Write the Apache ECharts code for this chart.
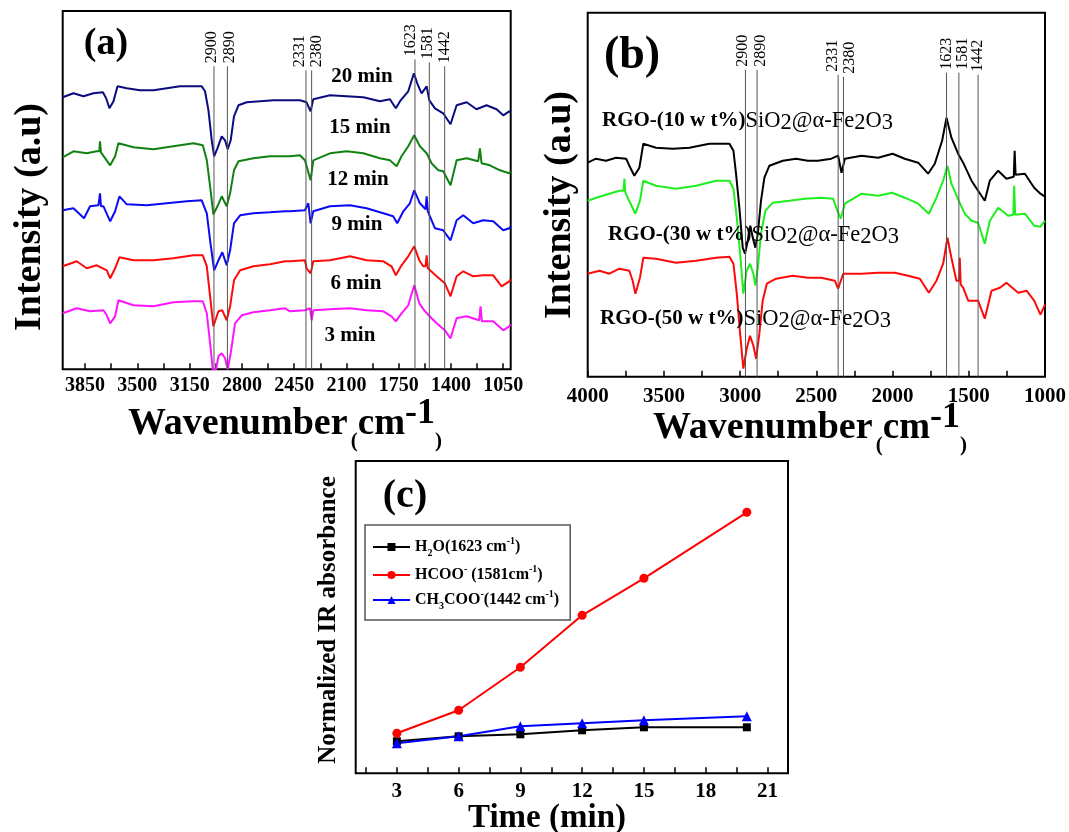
<!DOCTYPE html>
<html><head><meta charset="utf-8">
<script src="https://cdn.jsdelivr.net/npm/echarts@6/dist/echarts.min.js"></script>
<style>html,body{margin:0;padding:0;background:#fff}#c{width:1069px;height:832px}</style>
</head><body><div id="c"></div><script>
// ---------- Panel (a): in-situ spectra vs time (wavenumber, intensity a.u.) ----------
const specA20 = [[4000,272],[3995,273],[3928,276],[3861,273],[3794,276],[3731,277],[3709,271],[3687,261],[3660,268],[3633,283],[3571,281],[3482,279],[3392,279],[3303,281],[3214,283],[3125,283],[3069,283],[3047,278],[3024,259],[3002,229],[2986,213],[2964,221],[2935,233],[2913,229],[2895,220],[2875,229],[2853,253],[2823,264],[2768,267],[2678,268],[2589,269],[2511,269],[2478,269],[2411,269],[2367,267],[2340,258],[2322,270],[2210,274],[2099,273],[1987,272],[1876,268],[1809,270],[1769,261],[1737,269],[1686,278],[1648,296],[1626,286],[1597,276],[1563,283],[1545,269],[1507,261],[1452,256],[1403,245],[1362,264],[1295,267],[1229,260],[1162,264],[1095,260],[1050,254],[1010,258],[1000,257]];
const specA15 = [[4000,212],[3995,213],[3928,218],[3839,216],[3772,218],[3755,218],[3750,228],[3744,217],[3731,218],[3682,204],[3649,213],[3627,226],[3526,222],[3392,220],[3259,223],[3125,226],[3062,224],[3035,209],[3013,183],[2991,155],[2964,163],[2935,173],[2902,163],[2879,176],[2853,199],[2823,208],[2723,211],[2612,213],[2511,213],[2478,213],[2411,214],[2378,209],[2340,189],[2322,209],[2210,216],[2099,218],[1987,216],[1876,211],[1809,209],[1764,203],[1731,213],[1686,223],[1646,234],[1608,223],[1563,216],[1530,206],[1485,199],[1452,198],[1403,184],[1362,209],[1295,211],[1218,208],[1206,221],[1195,206],[1139,204],[1072,199],[1010,196],[1000,198]];
const specA12 = [[4000,159],[3995,159],[3928,161],[3857,151],[3817,163],[3761,164],[3755,165],[3750,176],[3744,163],[3727,163],[3682,148],[3649,158],[3620,173],[3571,165],[3437,164],[3303,166],[3169,168],[3069,169],[3035,156],[3013,129],[2986,99],[2957,109],[2931,117],[2902,104],[2879,119],[2853,146],[2812,154],[2723,156],[2612,157],[2511,158],[2478,158],[2378,159],[2355,166],[2340,146],[2322,158],[2210,163],[2076,164],[1965,161],[1853,156],[1787,153],[1760,146],[1719,158],[1675,166],[1646,179],[1608,166],[1570,160],[1563,173],[1555,158],[1545,156],[1507,141],[1452,139],[1403,129],[1362,149],[1318,154],[1251,146],[1184,149],[1117,148],[1050,139],[1010,141],[1000,143]];
const specA9 = [[4000,103],[3995,103],[3906,108],[3839,101],[3772,104],[3705,99],[3682,91],[3649,101],[3620,112],[3526,109],[3392,109],[3259,111],[3125,114],[3062,114],[3035,103],[3013,73],[2991,43],[2957,58],[2931,59],[2902,49],[2879,63],[2853,89],[2812,99],[2723,103],[2612,105],[2511,108],[2478,108],[2378,109],[2367,101],[2340,96],[2322,108],[2210,109],[2076,113],[1965,109],[1853,108],[1798,103],[1769,94],[1731,104],[1686,113],[1646,123],[1612,109],[1586,103],[1570,103],[1563,114],[1555,101],[1545,101],[1496,93],[1441,86],[1403,73],[1362,93],[1318,98],[1251,93],[1184,94],[1117,94],[1061,83],[1010,88],[1000,90]];
const specA6 = [[4000,56],[3995,56],[3906,61],[3817,58],[3727,59],[3705,54],[3682,46],[3649,53],[3627,69],[3526,64],[3392,63],[3259,67],[3125,68],[3062,68],[3035,56],[3013,26],[2995,0],[2973,0],[2957,13],[2935,16],[2913,11],[2895,0],[2875,16],[2846,46],[2801,54],[2723,57],[2612,59],[2511,61],[2478,58],[2378,59],[2344,61],[2333,49],[2322,59],[2210,60],[2076,61],[1965,59],[1853,58],[1798,53],[1769,48],[1731,56],[1686,64],[1646,84],[1612,66],[1574,58],[1530,51],[1496,46],[1441,39],[1403,31],[1362,51],[1295,53],[1211,49],[1202,63],[1193,48],[1117,48],[1050,39],[1010,43],[1000,45]];
const timeLabelsA = ['20 min','15 min','12 min','9 min','6 min','3 min'];

// ---------- Panel (b): spectra for different SiO2 loadings ----------
const specB10 = [[4000,214],[3945,218],[3880,216],[3814,219],[3748,218],[3727,211],[3694,201],[3661,209],[3635,233],[3552,229],[3442,228],[3333,229],[3202,233],[3070,233],[3044,226],[3027,203],[3005,169],[2983,129],[2968,123],[2950,136],[2933,151],[2917,139],[2900,129],[2884,143],[2863,176],[2841,199],[2808,211],[2720,216],[2633,218],[2556,216],[2489,216],[2401,218],[2357,221],[2335,204],[2313,218],[2204,221],[2095,219],[2000,223],[1920,218],[1832,214],[1767,203],[1723,213],[1675,236],[1646,259],[1614,239],[1570,223],[1537,214],[1482,196],[1439,186],[1395,176],[1362,196],[1307,206],[1253,198],[1205,200],[1199,226],[1193,202],[1132,203],[1071,189],[1030,183],[1000,180]];
const specB30 = [[4000,176],[3945,179],[3858,183],[3792,186],[3765,186],[3759,198],[3753,184],[3738,179],[3687,163],[3657,176],[3635,196],[3552,191],[3420,188],[3289,191],[3158,196],[3070,196],[3044,188],[3022,159],[3000,123],[2979,83],[2957,106],[2935,113],[2913,103],[2900,91],[2884,109],[2863,143],[2834,166],[2786,174],[2677,176],[2576,178],[2467,179],[2390,178],[2362,166],[2340,158],[2313,173],[2204,183],[2095,181],[2003,184],[1920,179],[1832,173],[1762,163],[1712,179],[1668,196],[1640,211],[1614,193],[1566,176],[1526,163],[1482,156],[1439,154],[1395,133],[1362,156],[1307,169],[1242,161],[1208,162],[1202,191],[1196,162],[1132,163],[1071,151],[1030,150],[1000,156]];
const specB50 = [[4000,103],[3923,106],[3858,103],[3792,108],[3727,106],[3705,96],[3687,83],[3657,99],[3635,119],[3552,118],[3420,114],[3289,116],[3158,119],[3070,120],[3044,113],[3022,83],[3000,43],[2979,8],[2957,28],[2935,41],[2913,31],[2895,18],[2874,43],[2852,76],[2825,93],[2764,98],[2655,101],[2556,99],[2467,99],[2379,96],[2357,88],[2324,103],[2204,103],[2095,104],[1985,104],[1898,101],[1821,98],[1762,84],[1712,96],[1668,113],[1640,139],[1614,119],[1581,96],[1563,96],[1559,119],[1553,92],[1537,89],[1504,76],[1471,76],[1439,76],[1395,58],[1351,86],[1296,89],[1253,94],[1176,84],[1121,86],[1071,76],[1030,62],[1000,72]];

// ---------- Peak annotation lines (drawn position, printed label) ----------
const peakPosA = [2987, 2897, 2371, 2333, 1641, 1545, 1442];
const peakTopA = [303, 303, 299, 299, 310, 307, 303];
const peakPosB = [2965, 2889, 2357, 2322, 1646, 1565, 1439];
const peakTopB = [307, 307, 302, 300, 304, 304, 302];
const peakLabels = ['2900', '2890', '2331', '2380', '1623', '1581', '1442'];
// horizontal offsets (px) of each printed label from its line
const peakLabelShiftA = [-2, 2, -6, 5, -4, -2, 0];
const peakLabelShiftB = [-3, 4, -5, 6, 0, 4, 0];

// ---------- Panel (c): normalized IR absorbance vs time ----------
const timeMin = [3, 6, 9, 12, 15, 20];
const absH2O = [0.32, 0.37, 0.39, 0.43, 0.46, 0.46];
const absHCOO = [0.40, 0.63, 1.06, 1.58, 1.95, 2.61];
const absCH3COO = [0.30, 0.37, 0.47, 0.50, 0.53, 0.57];

// ---------- Axis ticks ----------
const ticksLabelA = [3850, 3500, 3150, 2800, 2450, 2100, 1750, 1400, 1050];
const ticksMinorA = [3675, 3325, 2975, 2625, 2275, 1925, 1575, 1225];
const ticksLabelB = [4000, 3500, 3000, 2500, 2000, 1500, 1000];
const ticksMinorB = [3750, 3250, 2750, 2250, 1750, 1250];
const ticksLabelC = [3, 6, 9, 12, 15, 18, 21];
const ticksMinorC = [1.5, 4.5, 7.5, 10.5, 13.5, 16.5, 19.5];

const F = '"Liberation Serif", "Times New Roman", serif';
const chart = echarts.init(document.getElementById('c'), null, {renderer: 'canvas'});

function lineSeries(name, data, color, gi) {
  return {name, type: 'line', xAxisIndex: gi, yAxisIndex: gi, data, showSymbol: false,
    symbol: 'none', lineStyle: {color, width: 2}, itemStyle: {color}, silent: true, clip: true, z: 2};
}
function annotSeries(pos, tops, shifts, gi) {
  return {type: 'custom', xAxisIndex: gi, yAxisIndex: gi, z: 5, silent: true,
    data: pos.map((w, i) => [w, tops[i]]),
    renderItem: function (params, api) {
      const top = api.coord([api.value(0), api.value(1)]);
      const bot = api.coord([api.value(0), 0]);
      return {type: 'group', children: [
        {type: 'line', shape: {x1: top[0], y1: top[1], x2: bot[0], y2: bot[1]},
          style: {stroke: '#555', lineWidth: 1}},
        {type: 'text', x: top[0] + shifts[params.dataIndex], y: top[1] - 3, rotation: Math.PI / 2,
          style: {text: peakLabels[params.dataIndex], font: '16px ' + F, fill: '#000',
            align: 'left', verticalAlign: 'middle'}}
      ]};
    }};
}
function xAxisDef(gi, min, max, inverse, labels, minors, margin) {
  return {gridIndex: gi, type: 'value', min, max, inverse,
    axisLine: {show: false}, splitLine: {show: false},
    axisTick: {show: true, inside: true, length: 6, lineStyle: {color: '#000', width: 1.5},
      customValues: labels.concat(minors)},
    axisLabel: {customValues: labels, margin, color: '#000', fontFamily: F, fontWeight: 'bold',
      fontSize: gi === 0 ? 20 : 21, formatter: v => String(v)}};
}
function yAxisDef(gi, max) {
  return {gridIndex: gi, type: 'value', min: 0, max, show: false, splitLine: {show: false}};
}

const subRich = {
  b: {fontFamily: F, fontWeight: 'bold', fontSize: 21, lineHeight: 28, color: '#000'},
  n: {fontFamily: F, fontSize: 22.5, lineHeight: 28, color: '#000'},
  s: {fontFamily: F, fontSize: 22.5, lineHeight: 16, verticalAlign: 'bottom', color: '#000'}
};
function rgoText(pct) {
  return '{b|RGO-(' + pct + ' w t%)}{n|SiO}{s|2}{n|@α-Fe}{s|2}{n|O}{s|3}';
}
const wnRich = {
  w: {fontFamily: F, fontWeight: 'bold', fontSize: 38, lineHeight: 56, color: '#000'},
  p: {fontFamily: F, fontWeight: 'bold', fontSize: 21, lineHeight: 48, verticalAlign: 'bottom', color: '#000'},
  c: {fontFamily: F, fontWeight: 'bold', fontSize: 37, lineHeight: 56, color: '#000'},
  s: {fontFamily: F, fontWeight: 'bold', fontSize: 36, lineHeight: 36, verticalAlign: 'top', color: '#000'}
};
const wnText = '{w|Wavenumber} {p|(}{c|cm}{s|-1}{p|)}';

function txt(text, x, y, size, opts) {
  return Object.assign({type: 'text', x, y, z: 100, silent: true,
    style: {text, font: 'bold ' + size + 'px ' + F, fill: '#000', align: 'center', verticalAlign: 'middle'}}, opts || {});
}

const timeLabelX = [362, 360, 358, 357, 356, 350];
const timeLabelY = [77, 128, 180, 225, 284, 336];

const graphics = [
  txt('(a)', 106, 44, 38),
  txt('(b)', 632, 56, 46),
  txt('(c)', 405, 497, 40),
  txt('Intensity (a.u)', 30, 217, 38, {rotation: Math.PI / 2}),
  txt('Intensity (a.u)', 560, 205, 38, {rotation: Math.PI / 2}),
  txt('Normalized IR absorbance', 329, 620, 25, {rotation: Math.PI / 2}),
  txt('Time (min)', 547, 818, 33),
  {type: 'text', x: 285, y: 424, z: 100, silent: true,
    style: {text: wnText, rich: wnRich, align: 'center', verticalAlign: 'middle', fill: '#000'}},
  {type: 'text', x: 810, y: 428, z: 100, silent: true,
    style: {text: wnText, rich: wnRich, align: 'center', verticalAlign: 'middle', fill: '#000'}},
  {type: 'text', x: 602, y: 121, z: 100, silent: true,
    style: {text: rgoText(10), rich: subRich, align: 'left', verticalAlign: 'middle', fill: '#000'}},
  {type: 'text', x: 608, y: 235, z: 100, silent: true,
    style: {text: rgoText(30), rich: subRich, align: 'left', verticalAlign: 'middle', fill: '#000'}},
  {type: 'text', x: 600, y: 319, z: 100, silent: true,
    style: {text: rgoText(50), rich: subRich, align: 'left', verticalAlign: 'middle', fill: '#000'}}
].concat(timeLabelsA.map((t, i) => txt(t, timeLabelX[i], timeLabelY[i], 21)));

const legendRich = {
  t: {fontFamily: F, fontWeight: 'bold', fontSize: 16, lineHeight: 22, color: '#000'},
  sub: {fontFamily: F, fontWeight: 'bold', fontSize: 10, lineHeight: 12, verticalAlign: 'bottom', color: '#000'},
  sup: {fontFamily: F, fontWeight: 'bold', fontSize: 10, lineHeight: 12, verticalAlign: 'top', color: '#000'}
};
const legendText = {
  'H2O': '{t|H}{sub|2}{t|O(1623 cm}{sup|-1}{t|)}',
  'HCOO': '{t|HCOO}{sup|-}{t| (1581cm}{sup|-1}{t|)}',
  'CH3COO': '{t|CH}{sub|3}{t|COO}{sup|-}{t|(1442 cm}{sup|-1}{t|)}'
};

function markerSeries(name, ys, color, symbol, size) {
  return {name, type: 'line', xAxisIndex: 2, yAxisIndex: 2,
    data: timeMin.map((t, i) => [t, ys[i]]), symbol, symbolSize: size, showSymbol: true,
    lineStyle: {color, width: 2}, itemStyle: {color}, z: 3};
}

chart.setOption({
  animation: false,
  backgroundColor: '#fff',
  grid: [
    {left: 62.7, top: 11, width: 448, height: 358.3, show: true, borderColor: '#000', borderWidth: 2, backgroundColor: 'transparent'},
    {left: 587.7, top: 12.7, width: 457.3, height: 364, show: true, borderColor: '#000', borderWidth: 2, backgroundColor: 'transparent'},
    {left: 355.7, top: 461, width: 432.3, height: 312.3, show: true, borderColor: '#000', borderWidth: 2, backgroundColor: 'transparent'}
  ],
  xAxis: [
    xAxisDef(0, 1000, 4000, true, ticksLabelA, ticksMinorA, 7),
    xAxisDef(1, 1000, 4000, true, ticksLabelB, ticksMinorB, 9),
    xAxisDef(2, 1, 22, false, ticksLabelC, ticksMinorC, 8)
  ],
  yAxis: [yAxisDef(0, 358.3), yAxisDef(1, 364), yAxisDef(2, 3.123)],
  legend: {
    data: ['H2O', 'HCOO', 'CH3COO'], orient: 'vertical', left: 365, top: 525,
    padding: [11, 11, 9, 7], itemGap: 6, itemWidth: 37, itemHeight: 10,
    borderColor: '#555', borderWidth: 1.5, backgroundColor: '#fff',
    formatter: name => legendText[name],
    textStyle: {fontFamily: F, fontWeight: 'bold', fontSize: 16, color: '#000', rich: legendRich}
  },
  graphic: graphics,
  series: [
    lineSeries('20 min', specA20, '#0b0b80', 0),
    lineSeries('15 min', specA15, '#118211', 0),
    lineSeries('12 min', specA12, '#0a0af5', 0),
    lineSeries('9 min', specA9, '#ff0a0a', 0),
    lineSeries('6 min', specA6, '#ff14ff', 0),
    annotSeries(peakPosA, peakTopA, peakLabelShiftA, 0),
    lineSeries('10 wt%', specB10, '#000000', 1),
    lineSeries('30 wt%', specB30, '#1fee1f', 1),
    lineSeries('50 wt%', specB50, '#ff0a0a', 1),
    annotSeries(peakPosB, peakTopB, peakLabelShiftB, 1),
    markerSeries('H2O', absH2O, '#000000', 'rect', 8),
    markerSeries('HCOO', absHCOO, '#ff0000', 'circle', 9),
    markerSeries('CH3COO', absCH3COO, '#0000ff', 'triangle', 10)
  ]
});
</script></body></html>
